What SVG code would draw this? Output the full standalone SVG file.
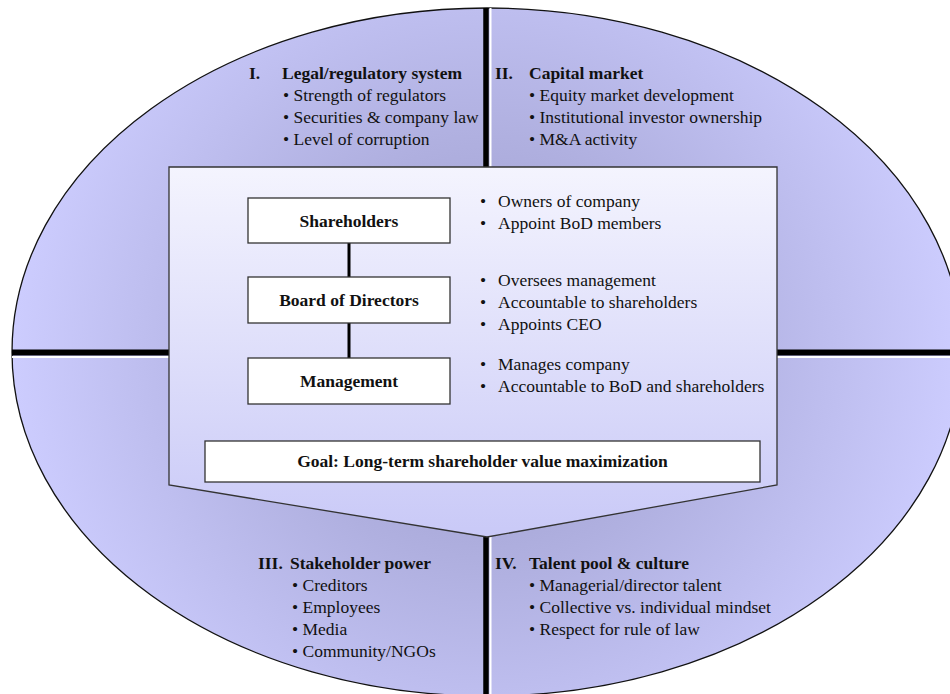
<svg xmlns="http://www.w3.org/2000/svg" width="950" height="694" viewBox="0 0 950 694">
  <defs>
    <radialGradient id="gEll" gradientUnits="userSpaceOnUse" cx="487" cy="352" r="480">
      <stop offset="0" stop-color="#9a9aca"/>
      <stop offset="0.45" stop-color="#b0b0e0"/>
      <stop offset="1" stop-color="#cdcdff"/>
    </radialGradient>
    <linearGradient id="gPent" x1="0" y1="0" x2="0" y2="1">
      <stop offset="0" stop-color="#f4f4fe"/>
      <stop offset="1" stop-color="#c9c9f7"/>
    </linearGradient>
    <style>
      text { font-family: "Liberation Serif", "Times New Roman", serif; font-size: 17.5px; fill: #111; }
      .b { font-weight: bold; }
      .mid { text-anchor: middle; }
      .box { fill: #ffffff; stroke: #333; stroke-width: 1.3; }
      .conn { stroke: #000; stroke-width: 3; fill: none; }
    </style>
  </defs>

  <rect width="950" height="694" fill="#ffffff"/>

  <g id="ellipse">
    <ellipse cx="487" cy="352" rx="475" ry="344" fill="url(#gEll)" stroke="#111" stroke-width="1.3"/>
    <line x1="490.5" y1="8" x2="490.5" y2="694" stroke="#ffffff" stroke-width="2"/>
    <line x1="12" y1="357" x2="950" y2="357" stroke="#ffffff" stroke-width="2"/>
    <line x1="486" y1="8" x2="486" y2="694" stroke="#000" stroke-width="5.5"/>
    <line x1="12" y1="352.5" x2="950" y2="352.5" stroke="#000" stroke-width="6"/>
  </g>

  <g id="q1">
    <text x="249" y="79" class="b">I.</text>
    <text x="282" y="79" class="b">Legal/regulatory system</text>
    <text x="283" y="101">• Strength of regulators</text>
    <text x="283" y="123">• Securities &amp; company law</text>
    <text x="283" y="145">• Level of corruption</text>
  </g>

  <g id="q2">
    <text x="495" y="79" class="b">II.</text>
    <text x="529" y="79" class="b">Capital market</text>
    <text x="529" y="101">• Equity market development</text>
    <text x="529" y="123">• Institutional investor ownership</text>
    <text x="529" y="145">• M&amp;A activity</text>
  </g>

  <g id="q3">
    <text x="258" y="569" class="b">III.</text>
    <text x="290" y="569" class="b">Stakeholder power</text>
    <text x="292" y="591">• Creditors</text>
    <text x="292" y="613">• Employees</text>
    <text x="292" y="635">• Media</text>
    <text x="292" y="657">• Community/NGOs</text>
  </g>

  <g id="q4">
    <text x="495" y="569" class="b">IV.</text>
    <text x="529" y="569" class="b">Talent pool &amp; culture</text>
    <text x="529" y="591">• Managerial/director talent</text>
    <text x="529" y="613">• Collective vs. individual mindset</text>
    <text x="529" y="635">• Respect for rule of law</text>
  </g>

  <g id="center-panel">
    <polygon points="169,167 777,167 777,485 487,537 169,485" fill="url(#gPent)" stroke="#333" stroke-width="1.3"/>
  </g>

  <g id="connectors">
    <line class="conn" x1="349" y1="243" x2="349" y2="277"/>
    <line class="conn" x1="349" y1="323" x2="349" y2="358"/>
  </g>

  <g id="shareholders">
    <rect class="box" x="248" y="198" width="202" height="45"/>
    <text x="349" y="227" class="b mid">Shareholders</text>
  </g>
  <g id="board">
    <rect class="box" x="248" y="277" width="202" height="46"/>
    <text x="349" y="306" class="b mid">Board of Directors</text>
  </g>
  <g id="management">
    <rect class="box" x="248" y="358" width="202" height="46"/>
    <text x="349" y="387" class="b mid">Management</text>
  </g>

  <g id="notes">
    <text x="480" y="207">•</text><text x="498" y="207">Owners of company</text>
    <text x="480" y="229">•</text><text x="498" y="229">Appoint BoD members</text>
    <text x="480" y="286">•</text><text x="498" y="286">Oversees management</text>
    <text x="480" y="308">•</text><text x="498" y="308">Accountable to shareholders</text>
    <text x="480" y="330">•</text><text x="498" y="330">Appoints CEO</text>
    <text x="480" y="370">•</text><text x="498" y="370">Manages company</text>
    <text x="480" y="392">•</text><text x="498" y="392">Accountable to BoD and shareholders</text>
  </g>

  <g id="goal">
    <rect class="box" x="205" y="441" width="555" height="41"/>
    <text x="482.5" y="467" class="b mid">Goal: Long-term shareholder value maximization</text>
  </g>
</svg>
